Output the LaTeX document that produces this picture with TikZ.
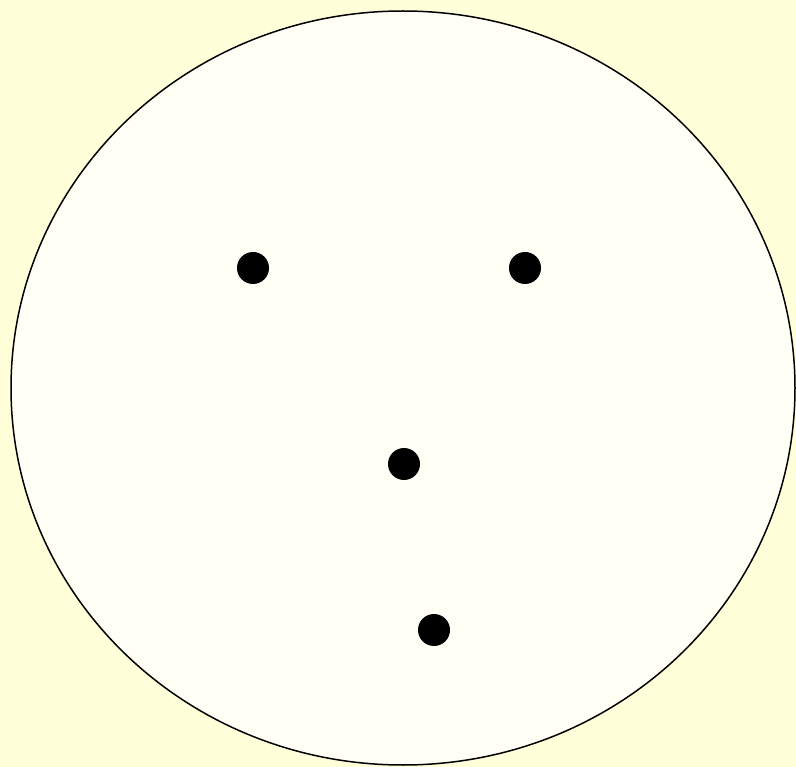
\documentclass[tikz,border=0pt]{standalone}
\usetikzlibrary{shapes.geometric}
\begin{document}
\begin{tikzpicture}[x=1pt,y=-1pt,
  dot/.style={circle,fill=black,inner sep=0pt,minimum size=32pt}]
\definecolor{bgc}{RGB}{255,255,217}
\definecolor{inner}{RGB}{255,255,245}
\fill[bgc] (0,0) rectangle (796,767);
\useasboundingbox (0,0) rectangle (796,767);
\node[draw=black,line width=1.5pt,fill=inner,ellipse,inner sep=0pt,minimum width=784pt,minimum height=754pt] (face) at (403,388) {};
\node[dot] (d1) at (253,268) {};
\node[dot] (d2) at (525,268) {};
\node[dot] (d3) at (404,464) {};
\node[dot] (d4) at (434,630) {};
\end{tikzpicture}
\end{document}
